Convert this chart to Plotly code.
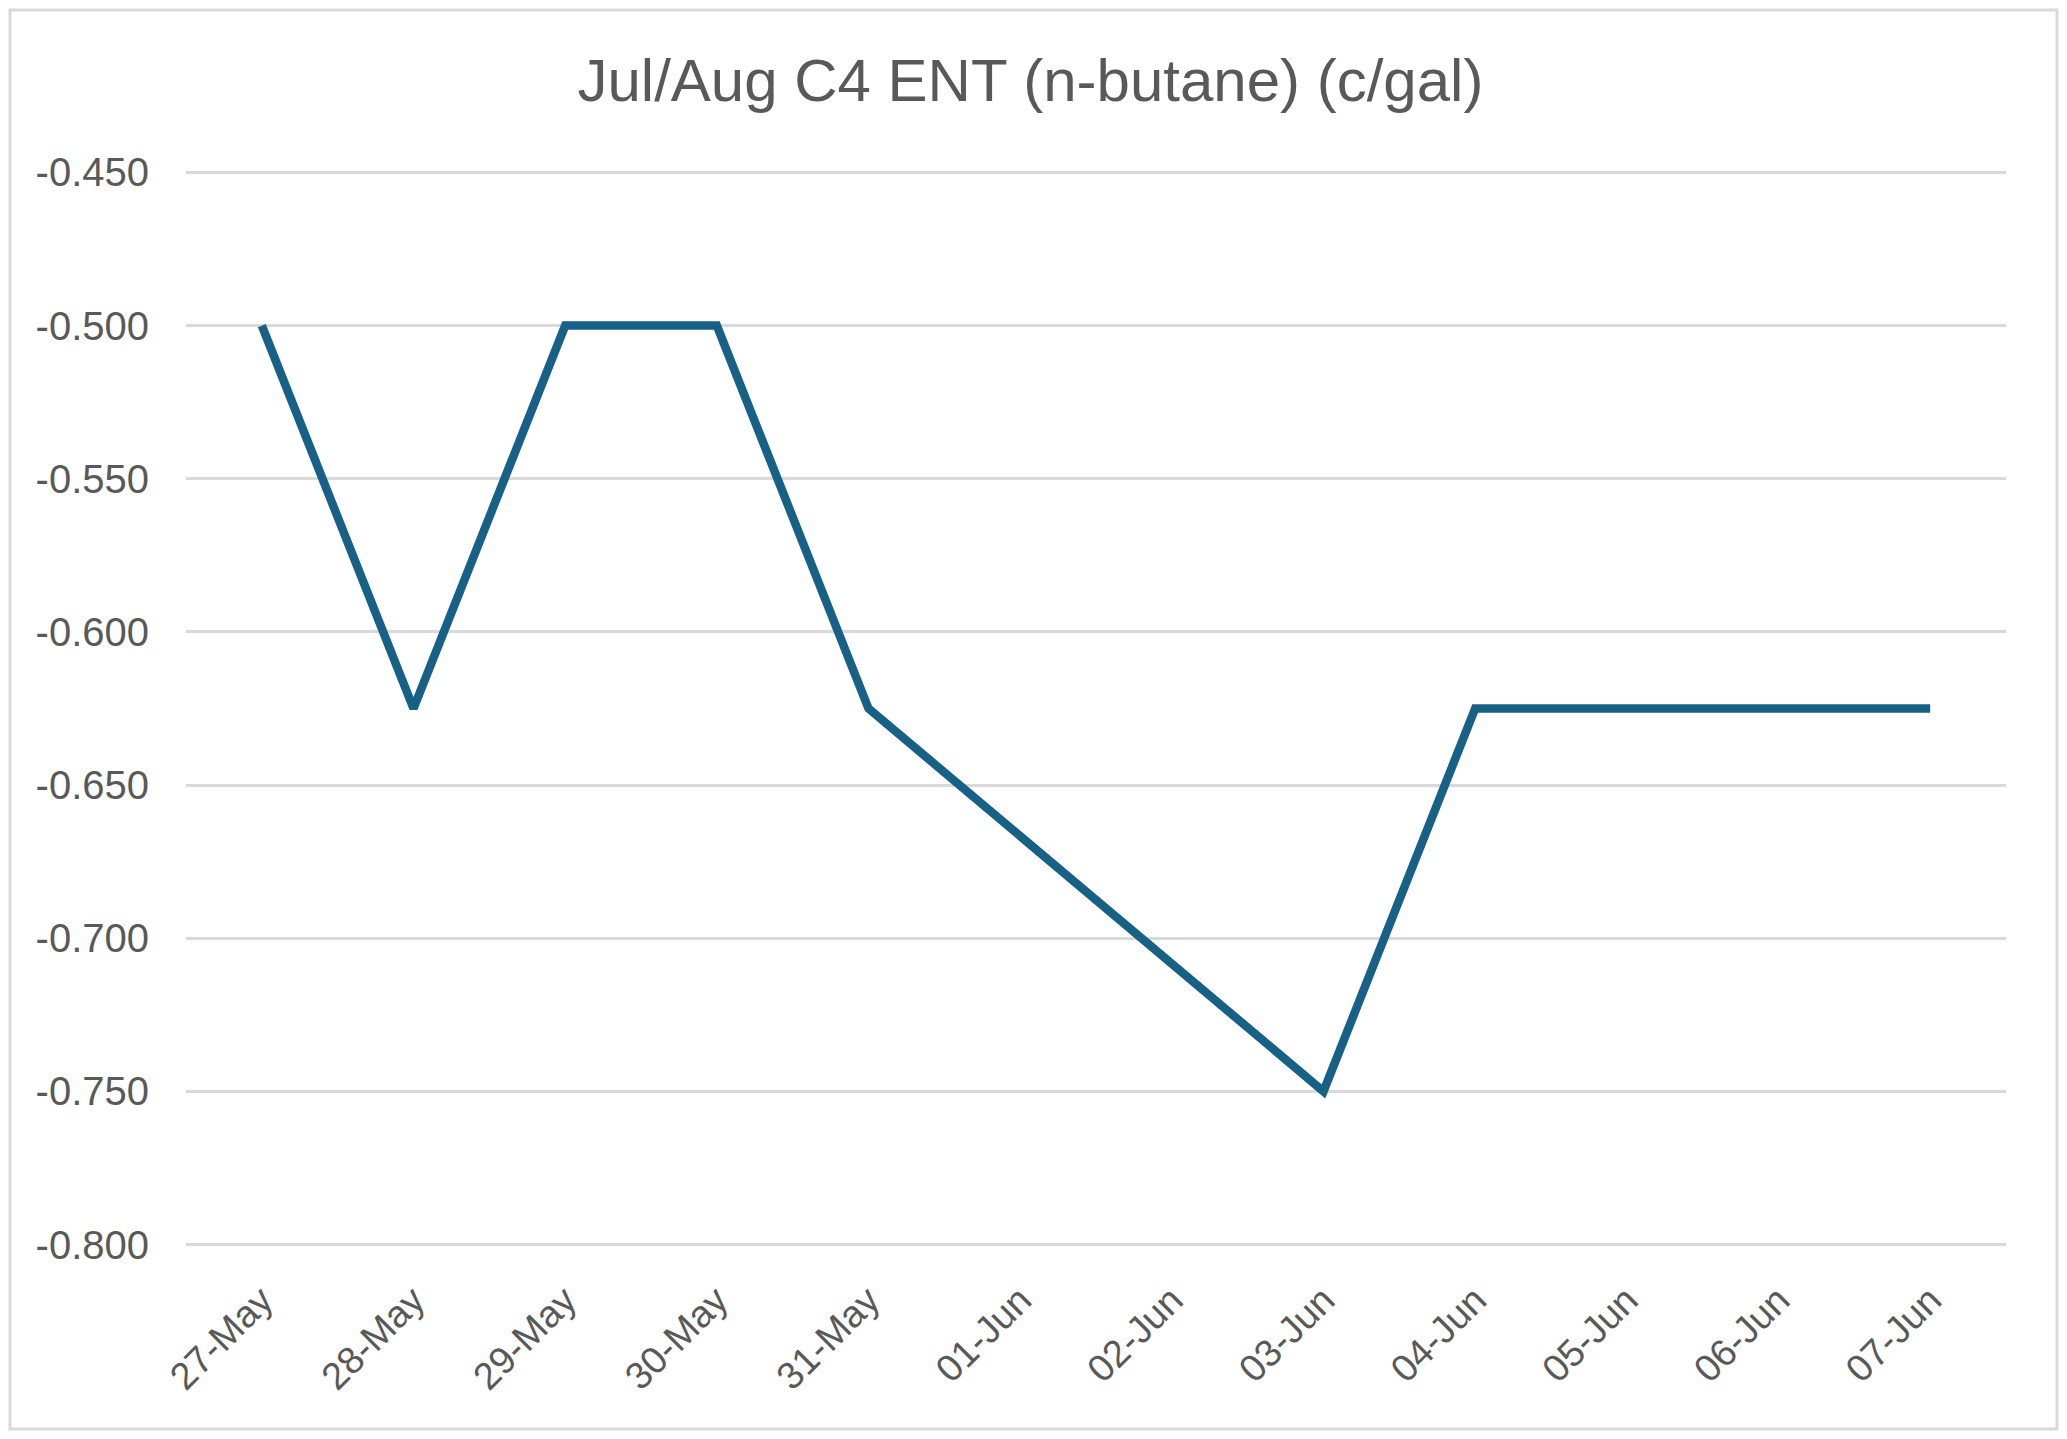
import plotly.graph_objects as go

categories = ["27-May", "28-May", "29-May", "30-May", "31-May", "01-Jun",
              "02-Jun", "03-Jun", "04-Jun", "05-Jun", "06-Jun", "07-Jun"]
values = [-0.500, -0.625, -0.500, -0.500, -0.625, None,
          None, -0.750, -0.625, -0.625, -0.625, -0.625]
y_ticks = [-0.45, -0.50, -0.55, -0.60, -0.65, -0.70, -0.75, -0.80]
y_tick_labels = ["-0.450", "-0.500", "-0.550", "-0.600", "-0.650", "-0.700", "-0.750", "-0.800"]
title_text = "Jul/Aug C4 ENT (n-butane) (c/gal)"

# page body has an 8px margin, so the figure is sized to fit inside it
W, H = 2051, 1423
L, R, T, B = 178, 53, 162, 184
pw, ph = W - L - R, H - T - B

FONT = "Liberation Sans, Arial, sans-serif"
GREY = "#595959"

fig = go.Figure()
fig.add_trace(go.Scatter(
    x=categories, y=values, mode="lines", connectgaps=True,
    line=dict(color="#176186", width=8.5),
    hoverinfo="x+y", showlegend=False,
))

fig.update_layout(
    width=W, height=H,
    margin=dict(l=L, r=R, t=T, b=B, pad=0),
    paper_bgcolor="white", plot_bgcolor="white",
    font=dict(family=FONT, color=GREY, size=36),
    title=dict(text=title_text, x=0.4985, xanchor="center", y=1 - 72 / H, yanchor="middle",
               font=dict(family=FONT, size=60, color=GREY)),
    xaxis=dict(type="category", categoryorder="array", categoryarray=categories,
               range=[-0.5, len(categories) - 0.5],
               showgrid=False, zeroline=False, showline=False,
               tickangle=-45, ticks="", tickfont=dict(size=38, color=GREY),
               ticklabelstandoff=22),
    yaxis=dict(range=[-0.8008, -0.4492], tickvals=y_ticks, ticktext=y_tick_labels,
               showgrid=True, gridcolor="#d9d9d9", gridwidth=2.5,
               zeroline=False, showline=False, ticks="",
               tickfont=dict(size=40, color=GREY), ticklabelstandoff=36),
    shapes=[dict(type="rect", xref="paper", yref="paper",
                 x0=-(L - 2) / pw, x1=1 + (R - 2) / pw,
                 y0=-(B - 2) / ph, y1=1 + (T - 2) / ph,
                 line=dict(color="#d9d9d9", width=3), fillcolor="rgba(0,0,0,0)",
                 layer="below")],
)

fig.write_html("out.html")
